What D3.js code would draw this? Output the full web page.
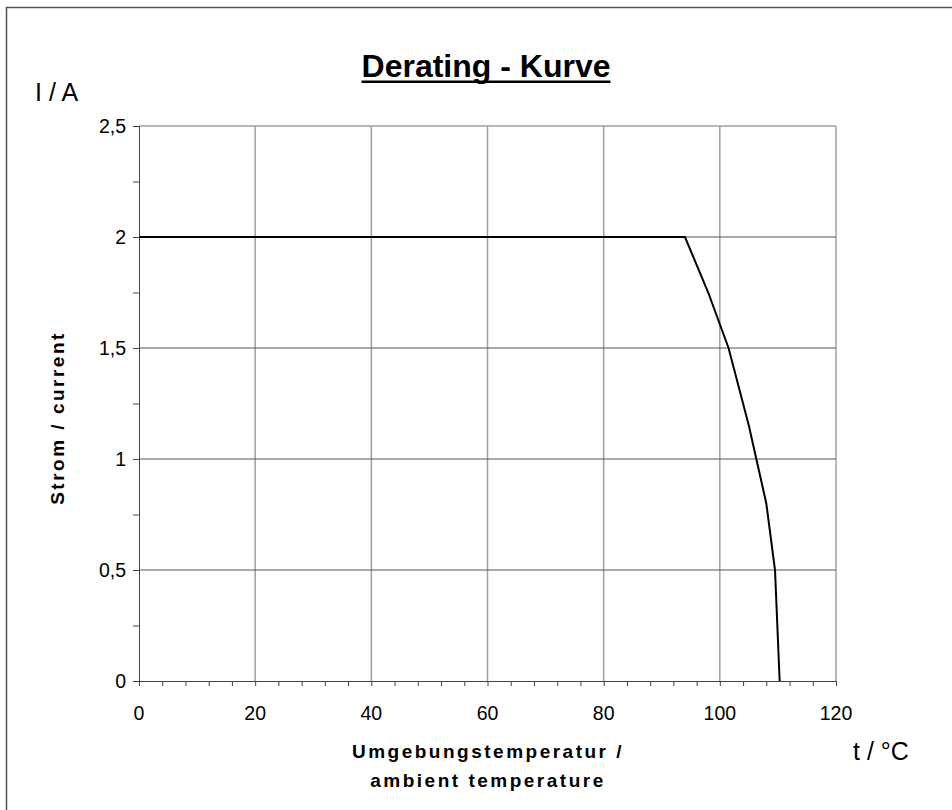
<!DOCTYPE html>
<html><head><meta charset="utf-8">
<script src="https://cdn.jsdelivr.net/npm/d3@7"></script>
<style>body{margin:0;background:#fff}svg{display:block}text{font-family:"Liberation Sans",Arial,sans-serif}</style>
</head><body>
<svg id="c" width="952" height="810"></svg>
<script>
// Data
const tempC = [0, 94, 98, 101.5, 105, 108, 109.5, 110.3];
const currentA = [2, 2, 1.75, 1.5, 1.15, 0.8, 0.5, 0];
const xTicks = [0, 20, 40, 60, 80, 100, 120];
const yTicks = [0, 0.5, 1, 1.5, 2, 2.5];
const yTickLabels = ["0", "0,5", "1", "1,5", "2", "2,5"];
const titleText = "Derating - Kurve";

const svg = d3.select("#c");
const L = 139, R = 836, T = 126, B = 681;
const x = d3.scaleLinear().domain([0, 120]).range([L, R]);
const y = d3.scaleLinear().domain([0, 2.5]).range([B, T]);

// outer frame
svg.append("rect").attr("x", 6.5).attr("y", 7.5).attr("width", 1000).attr("height", 900)
  .attr("fill", "none").attr("stroke", "#555").attr("stroke-width", 1.5);

// vertical gridlines (light gray)
svg.append("g").selectAll("line").data(xTicks.filter(d => d > 0)).join("line")
  .attr("x1", d => x(d)).attr("x2", d => x(d)).attr("y1", T).attr("y2", B)
  .attr("stroke", "#a0a0a0").attr("stroke-width", 1.5);
// top border
svg.append("line").attr("x1", L).attr("x2", R).attr("y1", y(2.5)).attr("y2", y(2.5))
  .attr("stroke", "#a0a0a0").attr("stroke-width", 1.5);
// horizontal gridlines (dark)
svg.append("g").selectAll("line").data(yTicks.filter(d => d > 0 && d < 2.5)).join("line")
  .attr("x1", L).attr("x2", R).attr("y1", d => y(d)).attr("y2", d => y(d))
  .attr("stroke", "#555").attr("stroke-width", 1);

// axes
const xAxis = d3.axisBottom(x).tickValues(d3.range(0, 121, 4)).tickSize(5).tickFormat("");
const gx = svg.append("g").attr("transform", `translate(0,${B})`).call(xAxis);
const yAxis = d3.axisLeft(y).tickValues(d3.range(0, 2.51, 0.25)).tickSize(6).tickFormat("");
const gy = svg.append("g").attr("transform", `translate(${L},0)`).call(yAxis);
[gx, gy].forEach(g => { g.selectAll("path,line").attr("stroke", "#444").attr("stroke-width", 1); });

// tick labels
svg.append("g").selectAll("text").data(xTicks).join("text")
  .attr("x", d => x(d)).attr("y", 720).attr("text-anchor", "middle")
  .attr("font-size", 19.5).text(d => d);
svg.append("g").selectAll("text").data(yTicks).join("text")
  .attr("x", 126).attr("y", d => y(d) + 7).attr("text-anchor", "end")
  .attr("font-size", 19.5).text((d, i) => yTickLabels[i]);

// curve
svg.append("path").datum(tempC.map((t, i) => [t, currentA[i]]))
  .attr("d", d3.line().x(d => x(d[0])).y(d => y(d[1])))
  .attr("fill", "none").attr("stroke", "#000").attr("stroke-width", 2);

// titles
const title = svg.append("text").attr("x", 486).attr("y", 77).attr("text-anchor", "middle")
  .attr("font-size", 32).attr("font-weight", "bold").text(titleText);
const bb = title.node().getBBox();
svg.append("rect").attr("x", bb.x).attr("y", 80.5).attr("width", bb.width).attr("height", 2.5).attr("fill", "#000");

svg.append("text").attr("x", 35).attr("y", 101).attr("font-size", 25).text("I / A");
svg.append("text").attr("x", 853).attr("y", 760).attr("font-size", 25).text("t / °C");

svg.append("text").attr("transform", "translate(64,418) rotate(-90)").attr("text-anchor", "middle")
  .attr("font-size", 19).attr("font-weight", "bold").attr("letter-spacing", 2.5).text("Strom / current");

svg.append("text").attr("x", 488).attr("y", 758).attr("text-anchor", "middle")
  .attr("font-size", 19).attr("font-weight", "bold").attr("letter-spacing", 2.5).text("Umgebungstemperatur /");
svg.append("text").attr("x", 488).attr("y", 787).attr("text-anchor", "middle")
  .attr("font-size", 19).attr("font-weight", "bold").attr("letter-spacing", 2.5).text("ambient temperature");
</script>
</body></html>
